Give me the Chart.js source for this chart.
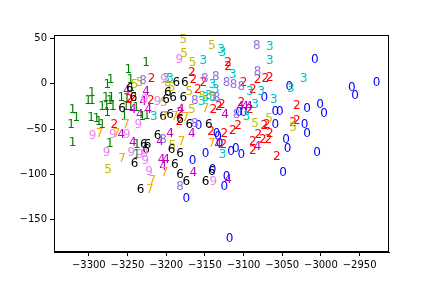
<!DOCTYPE html>
<html><head><meta charset="utf-8">
<script src="https://cdn.jsdelivr.net/npm/chart.js@4.4.1/dist/chart.umd.min.js"></script>
<style>html,body{margin:0;padding:0;background:#fff}#wrap{width:432px;height:288px}</style>
</head><body><div id="wrap"><canvas id="c" width="432" height="288"></canvas></div>
<script>
const digitLabels = ['0','1','2','3','4','5','6','7','8','9'];
const digitColors = ['#0000ff','#008000','#ff0000','#00bfbf','#bf00bf','#bfbf00','#000000','#ffa500','#9370db','#ee82ee'];
const xTicks = [-3300,-3250,-3200,-3150,-3100,-3050,-3000,-2950];
const yTicks = [50,0,-50,-100,-150];
const xRange = [-3345,-2912];
const yRange = [-186,54];

const pts0 = [[-3008,27],[-2960,-5],[-2956,-13],[-2928,1],[-3018,-28],[-3001,-23],[-2996,-33],[-3021,-45],[-3018,-55],[-3005,-76],[-3043,-72],[-3045,-62],[-3049,-99],[-3059,-31],[-3053,-31],[-3059,-45],[-3135,-55],[-3133,-59],[-3131,-66],[-3116,-75],[-3110,-72],[-3103,-79],[-3149,-77],[-3166,-85],[-3140,-95],[-3122,-103],[-3125,-114],[-3174,-127],[-3118,-171],[-3041,-3],[-3073,-16],[-3106,-32],[-3100,-32],[-3158,-46]];
const pts1 = [[-3226,23],[-3249,15],[-3272,4],[-3276,-1],[-3296,-10],[-3301,-19],[-3296,-19],[-3278,-15],[-3271,-15],[-3258,-16],[-3251,-17],[-3273,-19],[-3283,-26],[-3277,-26],[-3269,-26],[-3252,-25],[-3246,-26],[-3321,-29],[-3316,-38],[-3297,-38],[-3290,-39],[-3287,-42],[-3283,-45],[-3323,-45],[-3321,-65],[-3273,-66],[-3238,-67],[-3238,-79],[-3231,-36],[-3225,-35],[-3254,-36],[-3276,-32],[-3245,-5],[-3246,4],[-3239,-27]];
const pts2 = [[-3120,23],[-3120,19],[-3167,12],[-3165,4],[-3152,1],[-3159,-7],[-3100,1],[-3088,-7],[-3082,4],[-3072,6],[-3066,7],[-3103,-21],[-3092,-29],[-3031,-24],[-3070,-45],[-3036,-43],[-3031,-41],[-3132,-25],[-3128,-23],[-3139,-29],[-3182,-32],[-3183,-42],[-3219,6],[-3242,-16],[-3114,-52],[-3107,-47],[-3126,-68],[-3125,-55],[-3088,-64],[-3081,-56],[-3075,-62],[-3068,-62],[-3066,-55],[-3088,-74],[-3057,-81],[-3073,-46],[-3142,-53],[-3267,-45],[-3248,-18],[-3220,-19]];
const pts3 = [[-3129,38],[-3127,34],[-3066,41],[-3152,25],[-3066,25],[-3114,10],[-3140,-1],[-3136,-7],[-3092,-9],[-3077,-9],[-3061,-18],[-3154,-20],[-3145,-13],[-3085,-23],[-3096,-37],[-3022,6],[-3039,-6],[-3139,-16],[-3149,-15],[-3127,-79],[-3200,6],[-3195,6],[-3216,-36]];
const pts4 = [[-3251,-8],[-3226,-9],[-3230,-20],[-3258,-57],[-3243,-65],[-3206,-84],[-3200,-84],[-3204,-92],[-3208,-64],[-3195,-55],[-3167,-55],[-3133,-68],[-3165,-99],[-3120,-106],[-3104,-25],[-3098,-25],[-3093,-25],[-3124,-34],[-3082,-70],[-3243,-29],[-3181,-29],[-3223,-29],[-3234,-34]];
const pts5 = [[-3178,49],[-3177,33],[-3141,42],[-3166,23],[-3170,-9],[-3153,-14],[-3141,-14],[-3085,-44],[-3067,-39],[-3167,-29],[-3241,-1],[-3234,1],[-3198,-4],[-3193,-4],[-3275,-95],[-3036,-49],[-3203,-21],[-3192,-69]];
const pts6 = [[-3247,-6],[-3257,-28],[-3242,-16],[-3198,-10],[-3187,1],[-3176,1],[-3200,-18],[-3191,-16],[-3178,-16],[-3204,-36],[-3195,-34],[-3182,-40],[-3211,-58],[-3229,-68],[-3224,-68],[-3226,-73],[-3193,-73],[-3182,-78],[-3241,-88],[-3189,-90],[-3182,-101],[-3174,-108],[-3233,-117],[-3141,-97],[-3149,-108],[-3145,-45],[-3170,-45]];
const pts7 = [[-3252,-45],[-3286,-55],[-3264,-55],[-3257,-83],[-3202,-36],[-3189,-36],[-3218,-107],[-3221,-117],[-3202,-98],[-3180,-64],[-3149,-28],[-3141,-66],[-3175,-38]];
const pts8 = [[-3083,42],[-3150,6],[-3136,8],[-3122,1],[-3113,-1],[-3103,-3],[-3082,13],[-3163,-19],[-3163,-44],[-3182,-114],[-3109,-34],[-3230,3],[-3135,-16],[-3204,-62]];
const pts9 = [[-3183,27],[-3228,-18],[-3211,-20],[-3236,-45],[-3295,-58],[-3269,-56],[-3251,-57],[-3277,-76],[-3245,-76],[-3227,-85],[-3222,-97],[-3234,-79],[-3228,-77],[-3139,-108],[-3203,4]];

const allPts = [pts0,pts1,pts2,pts3,pts4,pts5,pts6,pts7,pts8,pts9];

const datasets = allPts.map((pts,i)=>({
  label: digitLabels[i],
  data: pts.map(p=>({x:p[0],y:p[1]})),
  textColor: digitColors[i],
  pointRadius: 0, pointHoverRadius: 0, showLine: false
}));

const textMarks = {
  id:'textMarks',
  afterDatasetsDraw(chart){
    const ctx = chart.ctx;
    ctx.save();
    ctx.font = '12px "DejaVu Sans"';
    ctx.textAlign = 'center';
    ctx.textBaseline = 'middle';
    chart.data.datasets.forEach((ds,i)=>{
      const meta = chart.getDatasetMeta(i);
      ctx.fillStyle = ds.textColor;
      meta.data.forEach(el=>ctx.fillText(ds.label, el.x, el.y));
    });
    ctx.restore();
  }
};
const frame = {
  id:'frame',
  afterDraw(chart){
    const a = chart.chartArea, ctx = chart.ctx;
    ctx.save();
    ctx.strokeStyle = '#000';
    ctx.lineWidth = 1;
    ctx.strokeRect(Math.round(a.left)+0.5, Math.round(a.top)+0.5, Math.round(a.right-a.left)-1, Math.round(a.bottom-a.top)-1);
    ctx.restore();
  }
};
const fmt = v => (v<0 ? '\u2212' + Math.abs(v) : String(v));
const tickFont = {family:'"DejaVu Sans"', size:10};

new Chart(document.getElementById('c'), {
  type:'scatter',
  data:{datasets},
  options:{
    responsive:false, animation:false, devicePixelRatio:1,
    layout:{padding:{left:0,right:43,top:35,bottom:0}},
    plugins:{legend:{display:false}, tooltip:{enabled:false}},
    scales:{
      x:{type:'linear', position:'bottom', min:xRange[0], max:xRange[1],
        afterBuildTicks:s=>{s.ticks = xTicks.map(v=>({value:v}));},
        afterFit:s=>{s.height = 36;},
        ticks:{callback:fmt, font:tickFont, color:'#000', padding:3, maxRotation:0, autoSkip:false},
        grid:{drawOnChartArea:false, drawTicks:true, tickLength:4, color:'#000'},
        border:{display:true, color:'#000'}
      },
      y:{type:'linear', position:'left', min:yRange[0], max:yRange[1],
        afterBuildTicks:s=>{s.ticks = yTicks.map(v=>({value:v}));},
        afterFit:s=>{s.width = 54;},
        ticks:{callback:fmt, font:tickFont, color:'#000', padding:3, autoSkip:false},
        grid:{drawOnChartArea:false, drawTicks:true, tickLength:4, color:'#000'},
        border:{display:true, color:'#000'}
      }
    }
  },
  plugins:[textMarks, frame]
});
</script>
</body></html>
